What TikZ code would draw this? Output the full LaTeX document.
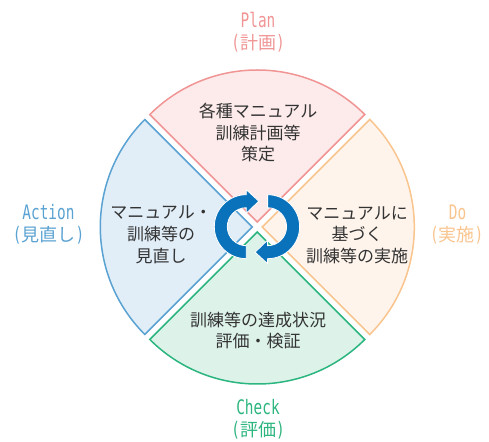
\documentclass[tikz,border=0pt]{standalone}
\usepackage{fontspec}
\usepackage{graphicx}
\setmainfont{Noto Sans CJK JP}
\newfontfamily\monofnt{DejaVu Sans Mono}
\usetikzlibrary{calc}
\newcommand\latn[1]{\scalebox{0.72}[1]{\monofnt\fontsize{20pt}{24pt}\selectfont #1}}
\definecolor{planD}{HTML}{F09494}
\definecolor{planF}{HTML}{FDEBEB}
\definecolor{doD}{HTML}{F9C48E}
\definecolor{doF}{HTML}{FEF4EC}
\definecolor{chkD}{HTML}{2BB57F}
\definecolor{chkF}{HTML}{DDF3EA}
\definecolor{actD}{HTML}{5AA2D2}
\definecolor{actF}{HTML}{E1EEF8}
\definecolor{txt}{HTML}{333333}
\definecolor{cycblue}{HTML}{0A72BA}
\begin{document}
\begin{tikzpicture}[x=1pt,y=1pt,
  sec/.style={line width=1.5pt, line join=miter},
  lbl/.style={font=\fontsize{18pt}{22pt}\selectfont, align=center, inner sep=0pt},
  body/.style={font=\fontsize{17pt}{21.7pt}\selectfont, align=center, text=txt, inner sep=0pt},
  cyc/.style={fill=cycblue, draw=white, line width=0.8pt}]
\useasboundingbox (0,0) rectangle (489,441);
\coordinate (c) at (257.3,214);
\foreach \ang/\fc/\dc in {90/planF/planD, 0/doF/doD, 270/chkF/chkD, 180/actF/actD}{
  \pgfmathsetmacro\sa{\ang-45}
  \pgfmathsetmacro\ea{\ang+45}
  \draw[sec, fill=\fc, draw=\dc] ($(c)+(\ang:5)$) -- ++(\sa:152) arc[start angle=\sa, end angle=\ea, radius=152] -- cycle;
}
% cycle arrows
\coordinate (L) at (246.3,214.3);
\coordinate (R) at (267.6,214.3);
\fill[cyc] ($(L)+(0,-32)$) arc[start angle=270, end angle=90, radius=32]
  -- ++(0,5) -- ($(L)+(12.5,25.5)$) -- ($(L)+(0,13.5)$) -- ($(L)+(0,19)$)
  arc[start angle=90, end angle=270, radius=19] -- cycle;
\fill[cyc] ($(R)+(0,32)$) arc[start angle=90, end angle=-90, radius=32]
  -- ++(0,-5) -- ($(R)+(-12.5,-25.5)$) -- ($(R)+(0,-13.5)$) -- ($(R)+(0,-19)$)
  arc[start angle=-90, end angle=90, radius=19] -- cycle;
% outer labels
\node[lbl, text=planD] (plan1) at (258,421) {\latn{Plan}};
\node[lbl, text=planD] (plan2) at (258,398) {\latn{(}計画\latn{)}};
\node[lbl, text=doD] (do1) at (457.5,229) {\latn{Do}};
\node[lbl, text=doD] (do2) at (456.7,206) {\latn{(}実施\latn{)}};
\node[lbl, text=chkD] (chk1) at (258,34) {\latn{Check}};
\node[lbl, text=chkD] (chk2) at (258,11) {\latn{(}評価\latn{)}};
\node[lbl, text=actD] (act1) at (48.5,229) {\latn{Action}};
\node[lbl, text=actD] (act2) at (48.5,206) {\latn{(}見直し\latn{)}};
% body texts
\node[body] (planB) at (258,308.3) {各種マニュアル\\訓練計画等\\策定};
\node[body] (actB) at (161,206) {マニュアル・\\訓練等の\\見直し};
\node[body] (doB) at (357,206) {マニュアルに\\基づく\\訓練等の実施};
\node[body] (chkB) at (258,110.5) {訓練等の達成状況\\評価・検証};
\end{tikzpicture}
\end{document}
